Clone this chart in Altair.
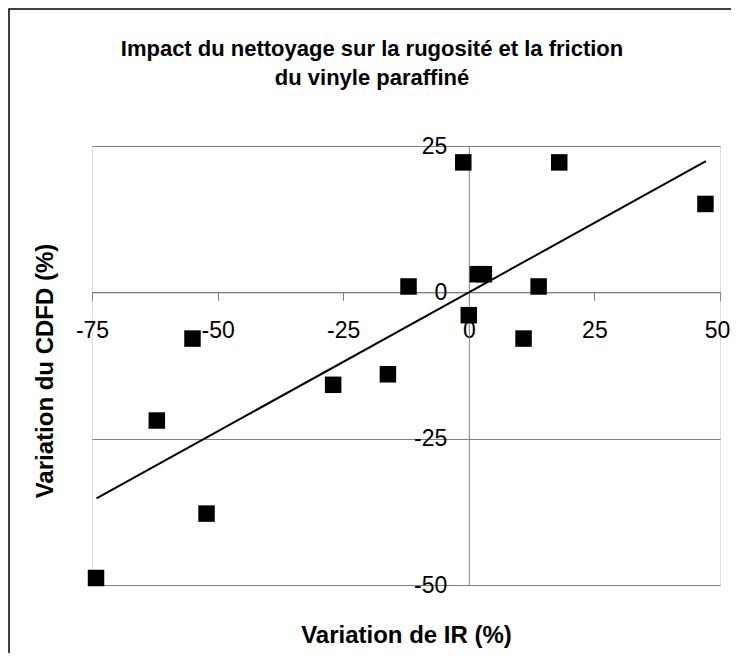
import altair as alt
import pandas as pd

# Data
x_ir = [-74.2, -62.1, -55.0, -52.2, -27.0, -16.1, -12.0, -1.1, 0.0, 1.8, 3.0, 10.9, 13.9, 18.0, 47.1]
y_cdfd = [-48.8, -21.9, -7.9, -37.8, -15.8, -14.0, 1.0, 22.2, -3.9, 3.1, 3.1, -7.9, 1.0, 22.2, 15.1]
trend_x = [-74.1, 47.2]
trend_y = [-35.2, 22.4]
x_ticks = [-75, -50, -25, 0, 25, 50]
y_ticks = [-50, -25, 0, 25]
title_lines = ["Impact du nettoyage sur la rugosité et la friction", "du vinyle paraffiné"]

pts = pd.DataFrame({"x": x_ir, "y": y_cdfd})
trend = pd.DataFrame({"x": trend_x, "y": trend_y})

W, H = 628, 439
FONT = "Liberation Sans"
GRAY = "#808080"
x_off = -(H * 50 / 75)
y_off = -(W * 75 / 125)

xs = alt.Scale(domain=[-75, 50], nice=False, zero=False)
ys = alt.Scale(domain=[-50, 25], nice=False, zero=False)

x_axis = alt.Axis(
    values=x_ticks, grid=False, offset=x_off, domainColor=GRAY, tickColor=GRAY,
    tickSize=8, labelFont=FONT, labelFontSize=23, labelColor="black", labelPadding=19,
    labelExpr="'' + datum.value", labelFlush=False, labelOverlap=False,
    labelOffset={"condition": {"test": "datum.value == 50", "value": -3}, "value": 0},
    title="Variation de IR (%)", titleFont=FONT, titleFontSize=24, titleFontWeight="bold",
    titleColor="black", titleY=343, titleBaseline="middle",
)
y_axis = alt.Axis(
    values=y_ticks, grid=True, gridColor=GRAY, offset=y_off, domainColor=GRAY, tickColor=GRAY,
    tickSize=8, labelFont=FONT, labelFontSize=23, labelColor="black", labelPadding=14,
    labelBaseline="middle", labelExpr="'' + datum.value", labelFlush=False, labelOverlap=False,
    title="Variation du CDFD (%)", titleFont=FONT, titleFontSize=24, titleFontWeight="bold",
    titleColor="black", titleX=-423, titleY=H / 2 + 5, titleBaseline="middle",
)

points = alt.Chart(pts).mark_point(shape="square", filled=True, size=272, color="black", opacity=1).encode(
    x=alt.X("x:Q", scale=xs, axis=x_axis),
    y=alt.Y("y:Q", scale=ys, axis=y_axis),
)
line = alt.Chart(trend).mark_line(color="black", strokeWidth=2).encode(
    x=alt.X("x:Q", scale=xs),
    y=alt.Y("y:Q", scale=ys),
)
border = alt.Chart(pd.DataFrame({"a": [0]})).mark_rect(
    fill=None, stroke="black", strokeWidth=1.5
).encode(
    x=alt.value(-83), x2=alt.value(W + 40), y=alt.value(-137), y2=alt.value(H + 100)
)
title1 = alt.Chart(pd.DataFrame({"t": [title_lines[0]]})).mark_text(
    font=FONT, fontSize=22, fontWeight="bold", color="black", baseline="middle", align="center"
).encode(text="t:N", x=alt.value(280), y=alt.value(-97))
title2 = alt.Chart(pd.DataFrame({"t": [title_lines[1]]})).mark_text(
    font=FONT, fontSize=22, fontWeight="bold", color="black", baseline="middle", align="center"
).encode(text="t:N", x=alt.value(280), y=alt.value(-68))

chart = alt.layer(border, line, points, title1, title2).properties(
    width=W, height=H,
    autosize=alt.AutoSizeParams(type="none"),
    padding={"left": 84, "top": 138, "right": 11, "bottom": 68},
).configure_view(stroke=GRAY, strokeWidth=1).configure(background="white")

chart.save("out.html", embed_options={"renderer": "svg", "actions": False})
